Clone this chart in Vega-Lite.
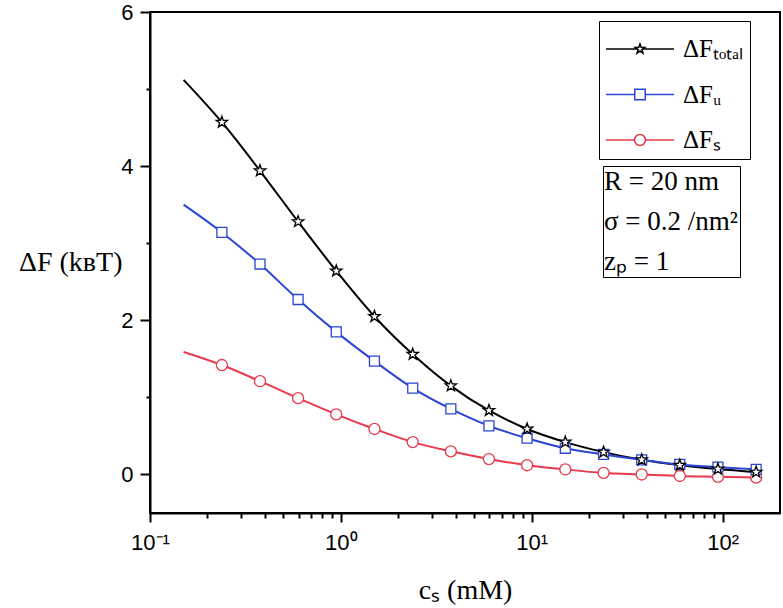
{
  "$schema": "https://vega.github.io/schema/vega-lite/v6.json",
  "width": 630,
  "height": 501,
  "autosize": {"type": "none"},
  "padding": {"left": 150, "top": 12, "right": 3, "bottom": 95},
  "background": "white",
  "config": {
    "view": {"stroke": "black", "strokeWidth": 2},
    "axis": {"grid": false, "domainColor": "black", "domainWidth": 2, "tickColor": "black", "tickWidth": 2, "labelColor": "black", "titleColor": "black", "labelFont": "Liberation Sans", "labelFontSize": 22, "titleFont": "Liberation Serif", "titleFontSize": 28, "titleFontWeight": "normal", "labelFlush": false, "labelOverlap": false, "labelBound": false}
  },
  "datasets": {
    "curves": [
      {"c": 0.15, "F": 5.12, "series": "ΔFₜₒₜₐₗ", "m": 0},
      {"c": 0.238, "F": 4.57, "series": "ΔFₜₒₜₐₗ", "m": 1},
      {"c": 0.377, "F": 3.94, "series": "ΔFₜₒₜₐₗ", "m": 1},
      {"c": 0.597, "F": 3.28, "series": "ΔFₜₒₜₐₗ", "m": 1},
      {"c": 0.946, "F": 2.64, "series": "ΔFₜₒₜₐₗ", "m": 1},
      {"c": 1.5, "F": 2.05, "series": "ΔFₜₒₜₐₗ", "m": 1},
      {"c": 2.38, "F": 1.56, "series": "ΔFₜₒₜₐₗ", "m": 1},
      {"c": 3.77, "F": 1.15, "series": "ΔFₜₒₜₐₗ", "m": 1},
      {"c": 5.97, "F": 0.83, "series": "ΔFₜₒₜₐₗ", "m": 1},
      {"c": 9.46, "F": 0.59, "series": "ΔFₜₒₜₐₗ", "m": 1},
      {"c": 15, "F": 0.42, "series": "ΔFₜₒₜₐₗ", "m": 1},
      {"c": 23.8, "F": 0.29, "series": "ΔFₜₒₜₐₗ", "m": 1},
      {"c": 37.7, "F": 0.19, "series": "ΔFₜₒₜₐₗ", "m": 1},
      {"c": 59.7, "F": 0.12, "series": "ΔFₜₒₜₐₗ", "m": 1},
      {"c": 94.6, "F": 0.07, "series": "ΔFₜₒₜₐₗ", "m": 1},
      {"c": 150, "F": 0.03, "series": "ΔFₜₒₜₐₗ", "m": 1},
      {"c": 0.15, "F": 3.5, "series": "ΔFᵤ", "m": 0},
      {"c": 0.238, "F": 3.14, "series": "ΔFᵤ", "m": 1},
      {"c": 0.377, "F": 2.73, "series": "ΔFᵤ", "m": 1},
      {"c": 0.597, "F": 2.27, "series": "ΔFᵤ", "m": 1},
      {"c": 0.946, "F": 1.85, "series": "ΔFᵤ", "m": 1},
      {"c": 1.5, "F": 1.47, "series": "ΔFᵤ", "m": 1},
      {"c": 2.38, "F": 1.12, "series": "ΔFᵤ", "m": 1},
      {"c": 3.77, "F": 0.85, "series": "ΔFᵤ", "m": 1},
      {"c": 5.97, "F": 0.63, "series": "ΔFᵤ", "m": 1},
      {"c": 9.46, "F": 0.47, "series": "ΔFᵤ", "m": 1},
      {"c": 15, "F": 0.34, "series": "ΔFᵤ", "m": 1},
      {"c": 23.8, "F": 0.26, "series": "ΔFᵤ", "m": 1},
      {"c": 37.7, "F": 0.19, "series": "ΔFᵤ", "m": 1},
      {"c": 59.7, "F": 0.13, "series": "ΔFᵤ", "m": 1},
      {"c": 94.6, "F": 0.095, "series": "ΔFᵤ", "m": 1},
      {"c": 150, "F": 0.065, "series": "ΔFᵤ", "m": 1},
      {"c": 0.15, "F": 1.59, "series": "ΔFₛ", "m": 0},
      {"c": 0.238, "F": 1.42, "series": "ΔFₛ", "m": 1},
      {"c": 0.377, "F": 1.21, "series": "ΔFₛ", "m": 1},
      {"c": 0.597, "F": 0.99, "series": "ΔFₛ", "m": 1},
      {"c": 0.946, "F": 0.78, "series": "ΔFₛ", "m": 1},
      {"c": 1.5, "F": 0.59, "series": "ΔFₛ", "m": 1},
      {"c": 2.38, "F": 0.42, "series": "ΔFₛ", "m": 1},
      {"c": 3.77, "F": 0.3, "series": "ΔFₛ", "m": 1},
      {"c": 5.97, "F": 0.2, "series": "ΔFₛ", "m": 1},
      {"c": 9.46, "F": 0.12, "series": "ΔFₛ", "m": 1},
      {"c": 15, "F": 0.065, "series": "ΔFₛ", "m": 1},
      {"c": 23.8, "F": 0.02, "series": "ΔFₛ", "m": 1},
      {"c": 37.7, "F": 0.0, "series": "ΔFₛ", "m": 1},
      {"c": 59.7, "F": -0.02, "series": "ΔFₛ", "m": 1},
      {"c": 94.6, "F": -0.03, "series": "ΔFₛ", "m": 1},
      {"c": 150, "F": -0.04, "series": "ΔFₛ", "m": 1}
    ],
    "info": [
      {"info": "R = 20 nm"},
      {"info": "σ = 0.2 /nm²"},
      {"info": "zₚ = 1"}
    ]
  },
  "layer": [
    {
      "data": {"name": "curves"},
      "mark": {"type": "line", "interpolate": "monotone", "strokeWidth": 2},
      "encoding": {
        "x": {
          "field": "c", "type": "quantitative",
          "scale": {"type": "log", "domain": [0.1, 200], "nice": false},
          "axis": {
            "title": "cₛ (mM)",
            "values": [0.1, 0.2, 0.3, 0.4, 0.5, 0.6, 0.7, 0.8, 0.9, 1, 2, 3, 4, 5, 6, 7, 8, 9, 10, 20, 30, 40, 50, 60, 70, 80, 90, 100],
            "labelExpr": "datum.value == 0.1 ? '10⁻¹' : datum.value == 1 ? '10⁰' : datum.value == 10 ? '10¹' : datum.value == 100 ? '10²' : ''",
            "tickSize": {"condition": {"test": "datum.value == 0.1 || datum.value == 1 || datum.value == 10 || datum.value == 100", "value": 9}, "value": 5},
            "labelPadding": 10,
            "labelDx": 4,
            "titlePadding": 23
          }
        },
        "y": {
          "field": "F", "type": "quantitative",
          "scale": {"domain": [-0.5, 6], "nice": false, "zero": false},
          "axis": {
            "title": "ΔF (kʙT)",
            "values": [0, 1, 2, 3, 4, 5, 6],
            "format": "d",
            "labelExpr": "datum.value % 2 == 0 ? datum.label : ''",
            "tickSize": {"condition": {"test": "datum.value % 2 == 0", "value": 10}, "value": 4},
            "labelPadding": 7,
            "titleAngle": 0,
            "titleAlign": "right",
            "titleBaseline": "middle",
            "titleX": -28,
            "titleY": 250
          }
        },
        "color": {
          "field": "series", "type": "nominal",
          "scale": {"domain": ["ΔFₜₒₜₐₗ", "ΔFᵤ", "ΔFₛ"], "range": ["#000000", "#2b45d4", "#e8394d"]},
          "legend": {
            "orient": "none", "legendX": 449, "legendY": 9,
            "title": null, "padding": 6,
            "strokeColor": "black", "fillColor": "white",
            "symbolSize": 1764, "symbolOffset": 13, "labelOffset": 21,
            "labelFont": "Liberation Serif", "labelFontSize": 25, "labelColor": "black",
            "rowPadding": 10.5,
            "encode": {
              "symbols": {
                "update": {
                  "shape": {"signal": "datum.value == 'ΔFₜₒₜₐₗ' ? 'M-1.62,0L-0.11,0M0.11,0L1.62,0M0,-0.24L0.056,-0.078L0.228,-0.074L0.091,0.030L0.141,0.194L0,0.096L-0.141,0.194L-0.091,0.030L-0.228,-0.074L-0.056,-0.078Z' : datum.value == 'ΔFᵤ' ? 'M-1.62,0L-0.25,0M0.25,0L1.62,0M-0.25,-0.25L0.25,-0.25L0.25,0.25L-0.25,0.25Z' : 'M-1.62,0L-0.26,0M0.26,0L1.62,0M0.26,0A0.26,0.26,0,1,1,-0.26,0A0.26,0.26,0,1,1,0.26,0Z'"},
                  "fill": {"value": "white"},
                  "fillOpacity": {"value": 1},
                  "stroke": {"scale": "color", "field": "value"},
                  "strokeWidth": {"value": 1.5},
                  "size": {"value": 1764},
                  "opacity": {"value": 1}
                }
              }
            }
          }
        }
      }
    },
    {
      "data": {"name": "curves"},
      "transform": [{"filter": "datum.m == 1 && datum.series == 'ΔFₛ'"}],
      "mark": {"type": "point", "shape": "M0.92,0A0.92,0.92,0,1,1,-0.92,0A0.92,0.92,0,1,1,0.92,0Z", "filled": false, "fill": "white", "fillOpacity": 1, "opacity": 1, "strokeWidth": 1.3, "size": 144},
      "encoding": {
        "x": {"field": "c", "type": "quantitative"},
        "y": {"field": "F", "type": "quantitative"},
        "color": {"field": "series", "type": "nominal"}
      }
    },
    {
      "data": {"name": "curves"},
      "transform": [{"filter": "datum.m == 1 && datum.series == 'ΔFᵤ'"}],
      "mark": {"type": "point", "shape": "M-0.83,-0.83L0.83,-0.83L0.83,0.83L-0.83,0.83Z", "filled": false, "fill": "white", "fillOpacity": 1, "opacity": 1, "strokeWidth": 1.3, "size": 144},
      "encoding": {
        "x": {"field": "c", "type": "quantitative"},
        "y": {"field": "F", "type": "quantitative"},
        "color": {"field": "series", "type": "nominal"}
      }
    },
    {
      "data": {"name": "curves"},
      "transform": [{"filter": "datum.m == 1 && datum.series == 'ΔFₜₒₜₐₗ'"}],
      "mark": {"type": "point", "shape": "M0,-1L0.235,-0.324L0.951,-0.309L0.380,0.124L0.588,0.809L0,0.4L-0.588,0.809L-0.380,0.124L-0.951,-0.309L-0.235,-0.324Z", "filled": false, "fill": "white", "fillOpacity": 1, "opacity": 1, "strokeWidth": 1.3, "size": 144},
      "encoding": {
        "x": {"field": "c", "type": "quantitative"},
        "y": {"field": "F", "type": "quantitative"},
        "color": {"field": "series", "type": "nominal"}
      }
    },
    {
      "data": {"name": "info"},
      "mark": {"type": "point", "opacity": 0},
      "encoding": {
        "strokeDash": {
          "field": "info", "type": "nominal",
          "scale": {"domain": ["R = 20 nm", "σ = 0.2 /nm²", "zₚ = 1"]},
          "legend": {
            "orient": "none", "legendX": 453, "legendY": 154,
            "title": null, "padding": 2,
            "strokeColor": "black", "fillColor": "white",
            "symbolSize": 0, "symbolOpacity": 0, "symbolOffset": 0, "labelOffset": -28,
            "labelFont": "Liberation Serif", "labelFontSize": 27, "labelColor": "black",
            "rowPadding": 12
          }
        }
      }
    }
  ]
}
